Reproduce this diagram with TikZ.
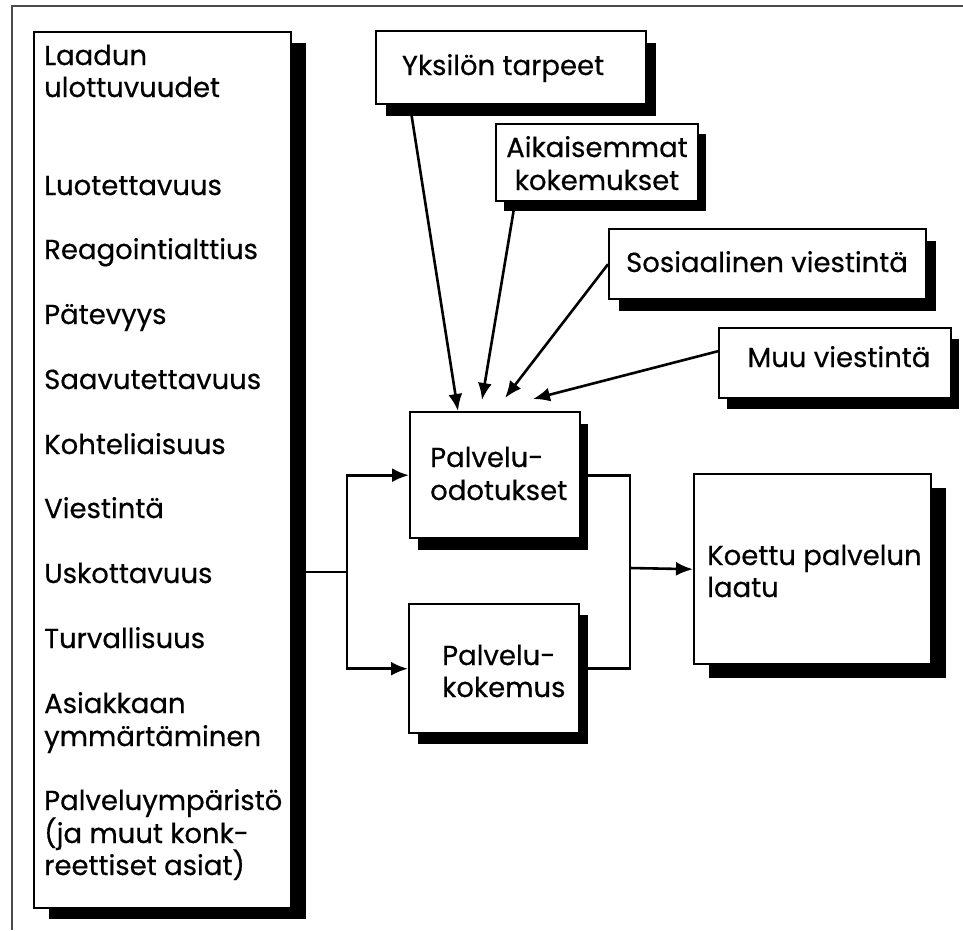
\documentclass[tikz,border=0pt]{standalone}
\usepackage{fontspec}
\setmainfont{Poppins}[FakeBold=0.5]
\usetikzlibrary{arrows.meta,shadows}
\begin{document}
\begin{tikzpicture}[x=1pt,y=-1pt,
  every node/.style={font=\fontsize{27.5}{34}\selectfont},
  box/.style={draw=black, line width=2.4pt, fill=white, rectangle, inner sep=0pt, anchor=north west},
  shad/.style 2 args={general shadow={fill=black, draw=none, shadow xshift=#1pt, shadow yshift=-#2pt}},
  conn/.style={line width=2.6pt},
  arr/.style={line width=2.6pt, -{Latex[length=17pt,width=14pt]}},
  lt/.style={anchor=base west, inner sep=0pt},
  ct/.style={anchor=base, inner sep=0pt},
  frame/.style={draw=black!70, line width=1.4pt}
]
\useasboundingbox (0,0) rectangle (963,930);
% outer frame
\draw[frame] (12,930) -- (12,6) -- (963,6);

% boxes
\node[box, shad={15}{11}, minimum width=257pt, minimum height=876pt] (lbox) at (33,31) {};
\node[box, shad={10}{12}, minimum width=270pt, minimum height=73pt] (yks) at (375,30) {};
\node[box, shad={8}{10}, minimum width=202pt, minimum height=77pt] (aik) at (495,123) {};
\node[box, shad={10}{12}, minimum width=317pt, minimum height=70pt] (sos) at (608,228) {};
\node[box, shad={8}{11}, minimum width=232pt, minimum height=70pt] (muu) at (718,327) {};
\node[box, shad={8}{12}, minimum width=170pt, minimum height=126pt] (odo) at (409,411) {};
\node[box, shad={9}{11}, minimum width=170pt, minimum height=129pt] (kok) at (408,603) {};
\node[box, shad={15}{14}, minimum width=237pt, minimum height=190pt] (koe) at (693,473) {};

% left box texts
\node[lt] (l1) at (44,65) {Laadun};
\node[lt] (l2) at (44,97) {ulottuvuudet};
\node[lt] (l3) at (44,195) {Luotettavuus};
\node[lt] (l4) at (44,259) {Reagointialttius};
\node[lt] (l5) at (44,324) {Pätevyys};
\node[lt] (l6) at (44,389) {Saavutettavuus};
\node[lt] (l7) at (44,454) {Kohteliaisuus};
\node[lt] (l8) at (44,518) {Viestintä};
\node[lt] (l9) at (44,583) {Uskottavuus};
\node[lt] (l10) at (44,648) {Turvallisuus};
\node[lt] (l11) at (44,713) {Asiakkaan};
\node[lt] (l12) at (44,746) {ymmärtäminen};
\node[lt] (l13) at (44,810) {Palveluympäristö};
\node[lt] (l14) at (44,843) {(ja muut konk-};
\node[lt] (l15) at (44,875) {reettiset asiat)};

% other texts
\node[ct] (t1) at (503,75) {Yksilön tarpeet};
\node[ct] (t2) at (597,157) {Aikaisemmat};
\node[ct] (t3) at (597,190) {kokemukset};
\node[ct] (t4) at (767,272) {Sosiaalinen viestintä};
\node[ct] (t5) at (839,367) {Muu viestintä};
\node[lt] (t6) at (430,467) {Palvelu-};
\node[lt] (t7) at (430,500) {odotukset};
\node[lt] (t8) at (442,665) {Palvelu-};
\node[lt] (t9) at (442,697) {kokemus};
\node[lt] (t10) at (707,565) {Koettu palvelun};
\node[lt] (t11) at (707,597) {laatu};

% connectors
\coordinate (j1) at (347,572);
\coordinate (j2) at (630,568);
\draw[conn] (lbox.east |- j1) -- (j1);
\draw[arr] (j1) |- (odo.west);
\draw[arr] (j1) |- (kok.west);
\draw[conn] (odo.east) -| (j2);
\draw[conn] (kok.east) -| (j2);
\draw[arr] (j2) -- (koe.west);

\draw[arr] ([xshift=35pt]yks.south west) -- ([xshift=49pt]odo.north west);
\draw[arr] ([xshift=20pt]aik.south west) -- ([xshift=73pt,yshift=11pt]odo.north west);
\draw[arr] (sos.west) -- ([xshift=96pt,yshift=13pt]odo.north west);
\draw[arr] ([yshift=12pt]muu.west) -- ([xshift=124pt,yshift=12pt]odo.north west);
\end{tikzpicture}
\end{document}
